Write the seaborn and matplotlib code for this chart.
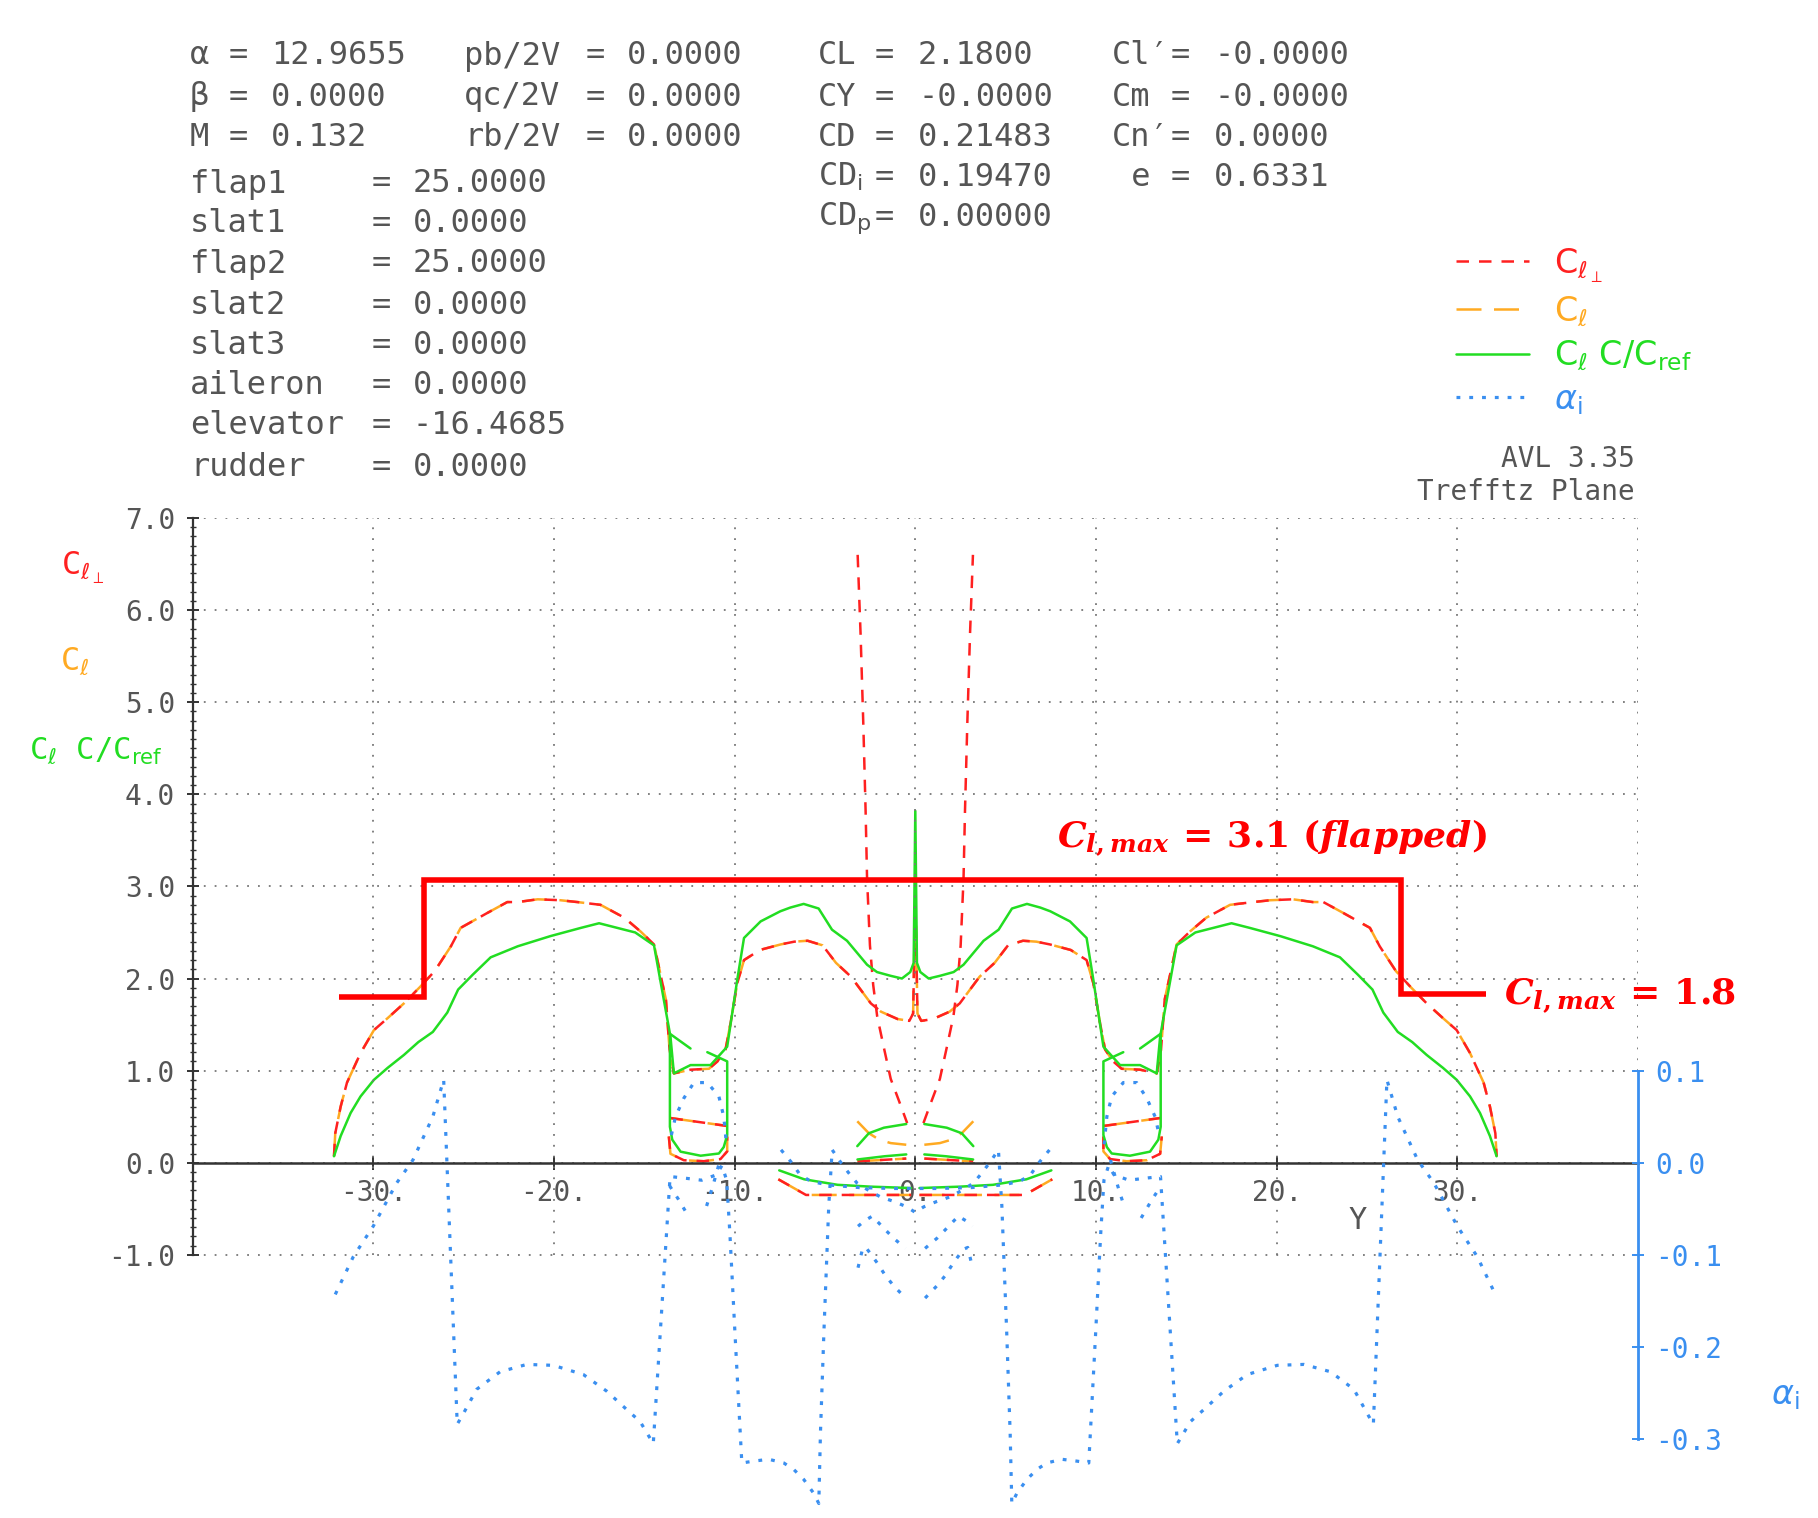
import numpy as np
import matplotlib
matplotlib.use("Agg")
from matplotlib import pyplot as plt
from matplotlib.ticker import FixedLocator
import seaborn as sns

# Values.  The loading is symmetric, so
# only the right half (y >= 0) is listed; the left half is its mirror image.

# main wing: c_l  (c_l_perp lies on top of it)
wing_y = [0.0, 0.12, 0.33, 0.98, 1.9, 2.46, 3.56, 4.39, 5.13, 5.96, 6.7, 7.45, 8.6, 9.48,
          9.85, 10.22, 10.5, 10.95, 11.42, 12.44, 13.36, 13.6, 13.8, 14.46, 15.2, 16.1,
          17.42, 18.7, 19.65, 20.9, 22.0, 22.58, 23.7, 25.16, 25.7, 26.6, 27.4, 28.3,
          29.2, 29.96, 30.7, 31.45, 31.8, 32.1, 32.17]
wing_cl = [2.9, 1.62, 1.54, 1.56, 1.64, 1.73, 2.02, 2.17, 2.36, 2.41, 2.40, 2.37, 2.31, 2.20,
           1.95, 1.52, 1.23, 1.10, 1.02, 1.01, 0.97, 1.23, 1.77, 2.37, 2.51, 2.66,
           2.80, 2.83, 2.85, 2.86, 2.83, 2.83, 2.71, 2.55, 2.35, 2.08, 1.91, 1.73,
           1.57, 1.44, 1.19, 0.87, 0.61, 0.32, 0.07]
# main wing: c_l c / c_ref
wing_yc = [0.0, 0.09, 0.28, 0.74, 1.38, 2.12, 2.67, 3.78, 4.61, 5.35, 6.18, 6.92, 7.47, 8.56,
           9.48, 9.85, 10.41, 11.33, 12.44, 13.36, 13.55, 14.46, 15.5, 17.5, 18.5, 20.2,
           22.0, 23.5, 24.5, 25.3, 25.9, 26.7, 27.5, 28.3, 29.2, 29.96, 30.7, 31.25, 31.8, 32.17]
wing_clc = [3.82, 2.17, 2.07, 2.0, 2.03, 2.07, 2.15, 2.41, 2.53, 2.76, 2.81, 2.77, 2.73, 2.62,
            2.44, 1.99, 1.26, 1.06, 1.06, 0.97, 1.37, 2.36, 2.50, 2.60, 2.55, 2.46,
            2.35, 2.23, 2.04, 1.88, 1.63, 1.42, 1.31, 1.17, 1.03, 0.90, 0.72, 0.54, 0.29, 0.07]

# boom fin / tail between |y| = 10.4 and 13.6
fin_y = [11.51, 10.41, 10.41, 10.6, 10.87, 11.88, 12.99, 13.45, 13.58, 13.58, 12.44]
fin_clc = [1.20, 1.10, 0.30, 0.17, 0.10, 0.076, 0.12, 0.25, 0.39, 1.40, 1.24]
tail_y = [10.45, 13.55]
tail_cl = [0.40, 0.485]
cup_y = [10.41, 10.41, 10.78, 11.7, 12.81, 13.55, 13.64]
cup_cl = [0.285, 0.123, 0.04, 0.016, 0.027, 0.097, 0.285]

# centre surface |y| < 3.2
ctr_yp = [0.45, 0.9, 1.36, 1.74, 2.11, 2.33, 2.51, 2.67, 2.75, 2.88, 3.03, 3.19]
ctr_clp = [0.43, 0.67, 0.91, 1.25, 1.59, 1.93, 2.36, 3.09, 3.82, 4.78, 5.75, 6.6]
ctr_y = [0.5, 1.36, 2.0, 2.57, 3.21]
ctr_cl = [0.195, 0.213, 0.25, 0.32, 0.45]
ctr_yc = [0.5, 1.74, 2.57, 3.21]
ctr_clc = [0.42, 0.38, 0.32, 0.18]
stub_yc = [0.5, 1.7, 3.2]
stub_clc = [0.09, 0.07, 0.035]
stub_y = [0.5, 3.2]
stub_cl = [0.045, 0.015]

# lower surface |y| < 7.5
low_yc = [0.23, 2.46, 4.3, 6.15, 7.53]
low_clc = [-0.275, -0.26, -0.24, -0.18, -0.083]
low_y = [0.23, 6.05, 7.58]
low_cl = [-0.35, -0.35, -0.18]

# induced angle alpha_i
ai_wing_y = [0.0, 0.46, 1.2, 1.94, 2.67, 3.23, 3.69, 4.15, 4.6, 4.79, 5.06, 5.25, 5.34, 5.62,
             6.17, 6.73, 7.28, 8.11, 8.94, 9.6, 9.98, 10.26, 10.44, 10.7, 10.99, 11.82, 12.65,
             13.57, 14.5, 15.23, 15.97, 17.08, 18.37, 20.03, 21.5, 22.98, 24.27, 25.0, 25.35,
             26.1, 26.7, 27.8, 28.7, 30.0, 31.1, 32.1]
ai_wing = [-0.054, -0.048, -0.042, -0.037, -0.029, -0.022, -0.011, 0.001, 0.014, -0.047,
           -0.185, -0.294, -0.37, -0.359, -0.344, -0.333, -0.326, -0.322, -0.324, -0.326,
           -0.185, -0.077, -0.019, -0.003, -0.013, -0.019, -0.017, -0.015, -0.305, -0.281,
           -0.268, -0.248, -0.23, -0.22, -0.219, -0.227, -0.246, -0.272, -0.284, 0.09,
           0.05, 0.003, -0.022, -0.069, -0.102, -0.143]
ai_fin_y = [10.45, 10.6, 10.87, 11.51, 12.25, 12.81, 13.27, 13.5]
ai_fin = [0.02, 0.05, 0.072, 0.087, 0.087, 0.07, 0.05, 0.03]
ai_ta_y = [10.8, 11.2, 11.55]
ai_ta = [0.003, -0.025, -0.047]
ai_tb_y = [12.5, 13.1, 13.6]
ai_tb = [-0.06, -0.04, -0.025]
ai_cm_y = [0.54, 1.2, 1.8, 2.38, 2.8, 3.17]
ai_cm = [-0.093, -0.082, -0.07, -0.058, -0.063, -0.069]
ai_cv_y = [0.54, 1.18, 1.64, 2.1, 2.66, 2.9, 3.17]
ai_cv = [-0.147, -0.134, -0.123, -0.109, -0.094, -0.092, -0.114]
ai_low_y = [0.0, 1.2, 3.1, 4.9, 5.8, 6.38, 6.84, 7.43]
ai_low = [-0.028, -0.028, -0.027, -0.024, -0.02, -0.013, 0.0, 0.014]

# Cl,max limits drawn on top
clmax_y = [-31.9, -27.2, -27.2, 26.9, 26.9, 31.6]
clmax = [1.8, 1.8, 3.07, 3.07, 1.83, 1.83]

RED = '#ff2020'
ORANGE = '#ffaa22'
GREEN = '#22dd22'
BLUE = '#3a8ff0'
TXT = '#555555'

W, H = 1818, 1518


def fx(px):
    return px / W


def fy(py):
    return 1 - py / H


def mirror(y, v, centre=False):
    y = np.asarray(y, float)
    v = np.asarray(v, float)
    if centre:  # one curve running through y = 0
        return [(np.r_[-y[:0:-1], y], np.r_[v[:0:-1], v])]
    return [(-y[::-1], v[::-1]), (y, v)]


def draw(ax, pieces, **kw):
    out = []
    for yy, vv in pieces:
        sns.lineplot(x=yy, y=vv, ax=ax, sort=False, estimator=None, **kw)
        out.append(ax.lines[-1])
    return out


sns.set_theme(style="white")
plt.rcParams['font.family'] = ['DejaVu Sans Mono', 'DejaVu Sans']
plt.rcParams['axes.unicode_minus'] = False
plt.rcParams['mathtext.fontset'] = 'dejavusans'
plt.rcParams['mathtext.it'] = 'DejaVu Serif:italic:bold'
plt.rcParams['mathtext.bf'] = 'DejaVu Serif:bold'
plt.rcParams['mathtext.rm'] = 'DejaVu Serif:bold'

fig = plt.figure(figsize=(W / 100, H / 100), dpi=100)
ax = fig.add_axes([fx(192.5), fy(1512.7), 1445.6 / W, 994.7 / H])
ax.set_xlim(-40, 40)
ax.set_ylim(-3.8, 7.0)

red_kw = dict(color=RED, lw=1.8, ls=(0, (5, 4)))
org_kw = dict(color=ORANGE, lw=1.8, ls=(0, (10, 5)))
grn_kw = dict(color=GREEN, lw=1.8)
blu_kw = dict(color=BLUE, lw=2.3, ls=(0, (1.2, 2.8)))

# c_l (orange) first, c_l_perp (red) on top of it
h_org = draw(ax, mirror(wing_y, wing_cl, True) + mirror(tail_y, tail_cl) + mirror(cup_y, cup_cl)
             + mirror(ctr_y, ctr_cl) + mirror(stub_y, stub_cl) + mirror(low_y, low_cl), **org_kw)
h_red = draw(ax, mirror(wing_y, wing_cl, True) + mirror(tail_y, tail_cl) + mirror(cup_y, cup_cl)
             + mirror(ctr_yp, ctr_clp) + mirror(stub_y, stub_cl) + mirror(low_y, low_cl), **red_kw)
h_grn = draw(ax, mirror(wing_yc, wing_clc, True) + mirror(fin_y, fin_clc) + mirror(ctr_yc, ctr_clc)
             + mirror(stub_yc, stub_clc) + mirror(low_yc, low_clc), **grn_kw)

# grid, axes
ax.set_yticks(range(-1, 8))
ax.set_yticklabels([f"{v:.1f}" for v in range(-1, 8)])
ax.yaxis.set_minor_locator(FixedLocator(np.arange(-1, 7.01, 0.1)))
ax.grid(axis='y', ls=(0, (1, 5)), color='#777777', lw=1.3)
ax.vlines([-30, -20, -10, 0, 10, 20, 30], -1, 7, colors='#777777', lw=1.3, linestyles=[(0, (1, 5))])
ax.vlines([40], 1, 7, colors='#777777', lw=1.3, linestyles=[(0, (1, 5))])
ax.set_xticks([-30, -20, -10, 0, 10, 20, 30])
ax.set_xticklabels([f"{v}." for v in [-30, -20, -10, 0, 10, 20, 30]])
for s in ['top', 'right']:
    ax.spines[s].set_visible(False)
ax.spines['left'].set_bounds(-1, 7)
ax.spines['left'].set_color('#333333')
ax.spines['left'].set_linewidth(1.6)
ax.spines['bottom'].set_position(('data', 0))
ax.spines['bottom'].set_color('#333333')
ax.spines['bottom'].set_linewidth(1.8)
ax.tick_params(axis='y', which='major', direction='inout', length=9, width=1.4, color='#333333',
               labelsize=20, labelcolor=TXT, pad=8, left=True)
ax.tick_params(axis='y', which='minor', direction='inout', length=4, width=1.0, color='#333333', left=True)
ax.tick_params(axis='x', direction='inout', length=10, width=1.4, color='#333333',
               labelsize=20, labelcolor=TXT, pad=7, bottom=True)
ax.set_xlabel('')
ax.set_ylabel('')
ax.text(24.5, -0.63, 'Y', ha='center', va='center', fontsize=22, color=TXT)

# Cl,max limits
sns.lineplot(x=clmax_y, y=clmax, ax=ax, sort=False, estimator=None, color='#ff0000', lw=4.0,
             solid_joinstyle='miter', solid_capstyle='butt')
ax.text(7.84, 3.53, r'$C_{l,max}\,=\,3.1\ (flapped)$', math_fontfamily='custom', fontsize=26,
        color='#ff0000', ha='left', va='center', clip_on=False)
ax.text(32.6, 1.82, r'$C_{l,max}\,=\,1.8$', math_fontfamily='custom', fontsize=26,
        color='#ff0000', ha='left', va='center', clip_on=False)

# alpha_i on its own scale
ax2 = ax.twinx()
ax2.set_ylim(-0.38, 0.70)
h_blu = draw(ax2, mirror(ai_wing_y, ai_wing, True) + mirror(ai_fin_y, ai_fin) + mirror(ai_ta_y, ai_ta)
             + mirror(ai_tb_y, ai_tb) + mirror(ai_cm_y, ai_cm) + mirror(ai_cv_y, ai_cv)
             + mirror(ai_low_y, ai_low, True), **blu_kw)
for s in ['top', 'left', 'bottom']:
    ax2.spines[s].set_visible(False)
ax2.spines['right'].set_bounds(-0.3, 0.1)
ax2.spines['right'].set_color(BLUE)
ax2.spines['right'].set_linewidth(2.0)
ax2.set_yticks([-0.3, -0.2, -0.1, 0.0, 0.1])
ax2.set_yticklabels(['-0.3', '-0.2', '-0.1', '0.0', '0.1'])
ax2.tick_params(axis='y', direction='inout', length=9, width=1.4, color=BLUE, labelsize=20,
                labelcolor=BLUE, pad=8, right=True)
ax2.grid(False)
ax2.set_ylabel('')

# axis captions
fig.text(fx(83), fy(568), r'C$_{\ell_\perp}$', color=RED, fontsize=23, ha='center', va='center')
fig.text(fx(75), fy(661), r'C$_\ell$', color=ORANGE, fontsize=23, ha='center', va='center')
fig.text(fx(96), fy(751), r'C$_\ell$ C/C$_{\rm ref}$', color=GREEN, fontsize=22, ha='center', va='center')
fig.text(fx(1785), fy(1395), r'$\alpha_{\rm i}$', color=BLUE, fontsize=24, ha='center', va='center')

# legend
fig.legend([h_red[0], h_org[0], h_grn[0], h_blu[0]],
           [r'C$_{\ell_\perp}$', r'C$_\ell$', r'C$_\ell$ C/C$_{\rm ref}$', r'$\alpha_{\rm i}$'],
           loc='upper left', bbox_to_anchor=(fx(1456), fy(246)), frameon=False,
           prop={'family': 'DejaVu Sans', 'size': 24}, handlelength=2.2, handletextpad=0.75,
           labelspacing=0.3, borderpad=0, borderaxespad=0, labelcolor='linecolor')

fig.text(fx(1635), fy(459), 'AVL 3.35', color=TXT, fontsize=20, ha='right', va='center')
fig.text(fx(1635), fy(492), 'Trefftz Plane', color=TXT, fontsize=20, ha='right', va='center')

# run header
col1 = [('α', '12.9655', 56), ('β', '0.0000', 97), ('M', '0.132', 137)]
col2 = [('pb/2V', '0.0000', 56), ('qc/2V', '0.0000', 97), ('rb/2V', '0.0000', 137)]
col3 = [('CL', '2.1800', 56), ('CY', '-0.0000', 97), ('CD', '0.21483', 137),
        (r'CD$_{\rm i}$', '0.19470', 177), (r'CD$_{\rm p}$', '0.00000', 218)]
col4 = [('Cl′', '-0.0000', 56), ('Cm', '-0.0000', 97), ('Cn′', '0.0000', 137), (' e', '0.6331', 177)]
ctrl = [('flap1', '25.0000', 184), ('slat1', '0.0000', 224), ('flap2', '25.0000', 264),
        ('slat2', '0.0000', 305), ('slat3', '0.0000', 346), ('aileron', '0.0000', 386),
        ('elevator', '-16.4685', 426), ('rudder', '0.0000', 467)]

for rows, lx, ex, vx in [(col1, 190, 238, 271), (col2, 464, 595, 627), (col3, 818, 884, 918),
                         (col4, 1112, 1180, 1214), (ctrl, 190, 381, 413)]:
    for lab, val, yy in rows:
        fig.text(fx(lx), fy(yy), lab, fontsize=23, color=TXT, ha='left', va='center')
        fig.text(fx(ex), fy(yy), '=', fontsize=23, color=TXT, ha='center', va='center')
        fig.text(fx(vx), fy(yy), val, fontsize=23, color=TXT, ha='left', va='center')

fig.savefig("out.png", dpi=100)
